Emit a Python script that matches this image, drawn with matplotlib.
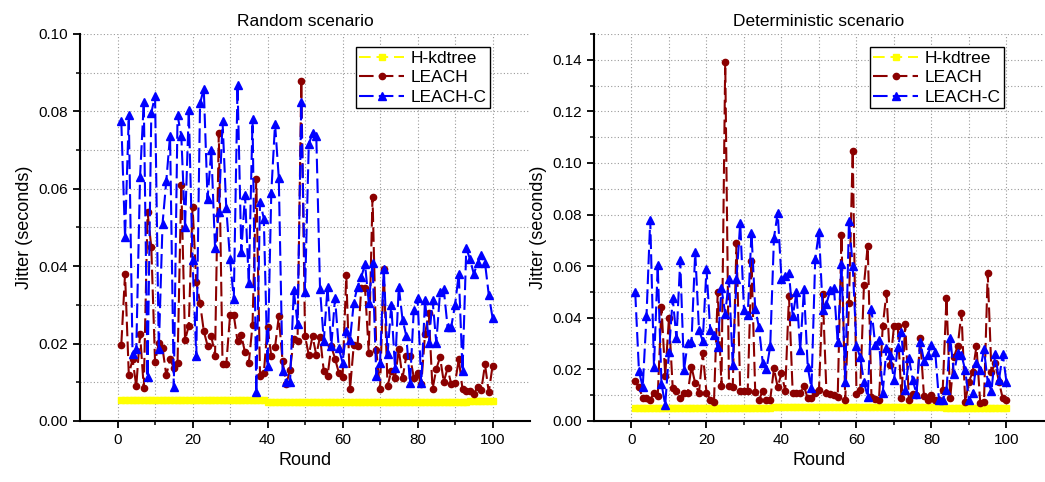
import matplotlib
matplotlib.use('Agg')
import matplotlib.pyplot as plt
from matplotlib.ticker import FixedLocator, FormatStrFormatter

plt.rcParams['font.family'] = ['Liberation Sans', 'DejaVu Sans']

rounds = list(range(1, 101))

# ---------------- Random scenario ----------------
rand_hkd = [0.0054, 0.0054, 0.0054, 0.0054, 0.0054, 0.0054, 0.0054, 0.0054, 0.0054, 0.0054,
            0.0054, 0.0054, 0.0054, 0.0054, 0.0054, 0.0054, 0.0054, 0.0054, 0.0054, 0.0054,
            0.0054, 0.0054, 0.0054, 0.0054, 0.0054, 0.0054, 0.0054, 0.0054, 0.0054, 0.0054,
            0.0054, 0.0054, 0.0054, 0.0054, 0.0054, 0.0054, 0.0054, 0.0054, 0.0054, 0.0050,
            0.0049, 0.0049, 0.0049, 0.0049, 0.0049, 0.0049, 0.0049, 0.0049, 0.0049, 0.0049,
            0.0049, 0.0049, 0.0049, 0.0049, 0.0049, 0.0049, 0.0049, 0.0049, 0.0049, 0.0049,
            0.0049, 0.0049, 0.0049, 0.0049, 0.0049, 0.0049, 0.0049, 0.0049, 0.0049, 0.0049,
            0.0049, 0.0049, 0.0049, 0.0049, 0.0049, 0.0049, 0.0049, 0.0049, 0.0049, 0.0049,
            0.0049, 0.0049, 0.0049, 0.0049, 0.0049, 0.0049, 0.0049, 0.0049, 0.0049, 0.0049,
            0.0049, 0.0049, 0.0049, 0.0051, 0.0051, 0.0051, 0.0051, 0.0051, 0.0051, 0.0051]

rand_leach = [0.0197, 0.0380, 0.0120, 0.0159, 0.0090, 0.0225, 0.0085, 0.0539, 0.0450, 0.0152,
              0.0202, 0.0188, 0.0118, 0.0159, 0.0138, 0.0150, 0.0610, 0.0209, 0.0246, 0.0554,
              0.0360, 0.0305, 0.0232, 0.0195, 0.0220, 0.0168, 0.0744, 0.0146, 0.0146, 0.0273,
              0.0273, 0.0206, 0.0221, 0.0177, 0.0149, 0.0249, 0.0626, 0.0116, 0.0123, 0.0244,
              0.0167, 0.0191, 0.0270, 0.0155, 0.0095, 0.0132, 0.0212, 0.0206, 0.0879, 0.0219,
              0.0170, 0.0219, 0.0170, 0.0218, 0.0129, 0.0116, 0.0193, 0.0161, 0.0125, 0.0114,
              0.0377, 0.0082, 0.0197, 0.0195, 0.0343, 0.0343, 0.0176, 0.0578, 0.0183, 0.0082,
              0.0392, 0.0090, 0.0129, 0.0112, 0.0185, 0.0111, 0.0167, 0.0167, 0.0112, 0.0123,
              0.0095, 0.0225, 0.0279, 0.0082, 0.0134, 0.0165, 0.0101, 0.0136, 0.0095, 0.0097,
              0.0160, 0.0082, 0.0078, 0.0077, 0.0070, 0.0088, 0.0080, 0.0146, 0.0074, 0.0142]

rand_leachc = [0.0774, 0.0475, 0.0790, 0.0172, 0.0185, 0.0630, 0.0825, 0.0113, 0.0796, 0.0840,
               0.0185, 0.0510, 0.0620, 0.0737, 0.0087, 0.0790, 0.0737, 0.0500, 0.0803, 0.0415,
               0.0168, 0.0821, 0.0858, 0.0574, 0.0700, 0.0447, 0.0539, 0.0774, 0.0549, 0.0418,
               0.0315, 0.0868, 0.0437, 0.0585, 0.0356, 0.0779, 0.0074, 0.0567, 0.0523, 0.0142,
               0.0590, 0.0768, 0.0628, 0.0129, 0.0100, 0.0100, 0.0338, 0.0251, 0.0823, 0.0332,
               0.0715, 0.0744, 0.0737, 0.0341, 0.0206, 0.0347, 0.0193, 0.0318, 0.0188, 0.0151,
               0.0232, 0.0210, 0.0306, 0.0347, 0.0372, 0.0405, 0.0305, 0.0408, 0.0116, 0.0150,
               0.0392, 0.0172, 0.0300, 0.0136, 0.0347, 0.0262, 0.0220, 0.0097, 0.0287, 0.0319,
               0.0097, 0.0313, 0.0202, 0.0313, 0.0202, 0.0332, 0.0340, 0.0244, 0.0244, 0.0300,
               0.0380, 0.0129, 0.0446, 0.0418, 0.0380, 0.0408, 0.0428, 0.0408, 0.0326, 0.0267]

# ---------------- Deterministic scenario ----------------
det_hkd = [0.0051, 0.0051, 0.0051, 0.0051, 0.0051, 0.0051, 0.0051, 0.0051, 0.0051, 0.0051,
           0.0051, 0.0051, 0.0051, 0.0051, 0.0051, 0.0051, 0.0051, 0.0051, 0.0051, 0.0051,
           0.0051, 0.0051, 0.0051, 0.0051, 0.0051, 0.0051, 0.0051, 0.0051, 0.0051, 0.0051,
           0.0051, 0.0051, 0.0051, 0.0051, 0.0051, 0.0051, 0.0051, 0.0053, 0.0053, 0.0053,
           0.0053, 0.0053, 0.0053, 0.0053, 0.0053, 0.0053, 0.0053, 0.0053, 0.0053, 0.0053,
           0.0053, 0.0053, 0.0053, 0.0053, 0.0053, 0.0053, 0.0053, 0.0053, 0.0053, 0.0053,
           0.0053, 0.0053, 0.0053, 0.0053, 0.0053, 0.0053, 0.0053, 0.0053, 0.0053, 0.0053,
           0.0053, 0.0053, 0.0053, 0.0053, 0.0053, 0.0053, 0.0053, 0.0053, 0.0053, 0.0053,
           0.0053, 0.0053, 0.0053, 0.0052, 0.0052, 0.0052, 0.0052, 0.0052, 0.0052, 0.0052,
           0.0052, 0.0052, 0.0052, 0.0052, 0.0052, 0.0052, 0.0052, 0.0052, 0.0052, 0.0052]

det_leach = [0.0156, 0.0130, 0.0090, 0.0090, 0.0083, 0.0107, 0.0097, 0.0441, 0.0175, 0.0400,
             0.0126, 0.0117, 0.0090, 0.0110, 0.0109, 0.0210, 0.0146, 0.0107, 0.0265, 0.0110,
             0.0083, 0.0074, 0.0498, 0.0135, 0.1393, 0.0136, 0.0130, 0.0688, 0.0117, 0.0117,
             0.0117, 0.0619, 0.0113, 0.0081, 0.0117, 0.0081, 0.0083, 0.0204, 0.0130, 0.0187,
             0.0117, 0.0483, 0.0107, 0.0109, 0.0107, 0.0135, 0.0088, 0.0090, 0.0110, 0.0120,
             0.0493, 0.0110, 0.0104, 0.0101, 0.0094, 0.0719, 0.0081, 0.0457, 0.1047, 0.0104,
             0.0120, 0.0528, 0.0680, 0.0093, 0.0085, 0.0081, 0.0368, 0.0496, 0.0217, 0.0368,
             0.0368, 0.0090, 0.0376, 0.0081, 0.0104, 0.0101, 0.0320, 0.0097, 0.0081, 0.0101,
             0.0081, 0.0083, 0.0120, 0.0476, 0.0088, 0.0249, 0.0290, 0.0420, 0.0074, 0.0152,
             0.0191, 0.0290, 0.0071, 0.0074, 0.0573, 0.0191, 0.0223, 0.0152, 0.0088, 0.0083]

det_leachc = [0.0498, 0.0193, 0.0132, 0.0405, 0.0780, 0.0210, 0.0603, 0.0145, 0.0061, 0.0268,
              0.0476, 0.0320, 0.0623, 0.0197, 0.0304, 0.0306, 0.0655, 0.0353, 0.0310, 0.0589,
              0.0353, 0.0333, 0.0288, 0.0515, 0.0415, 0.0551, 0.0217, 0.0551, 0.0768, 0.0431,
              0.0410, 0.0729, 0.0435, 0.0363, 0.0226, 0.0200, 0.0290, 0.0710, 0.0807, 0.0551,
              0.0560, 0.0573, 0.0405, 0.0498, 0.0275, 0.0512, 0.0210, 0.0126, 0.0628, 0.0733,
              0.0431, 0.0454, 0.0506, 0.0514, 0.0305, 0.0609, 0.0152, 0.0775, 0.0600, 0.0290,
              0.0247, 0.0152, 0.0093, 0.0433, 0.0295, 0.0314, 0.0109, 0.0282, 0.0256, 0.0158,
              0.0288, 0.0346, 0.0120, 0.0243, 0.0160, 0.0104, 0.0308, 0.0234, 0.0256, 0.0295,
              0.0269, 0.0081, 0.0083, 0.0120, 0.0323, 0.0182, 0.0265, 0.0256, 0.0197, 0.0081,
              0.0107, 0.0226, 0.0197, 0.0278, 0.0152, 0.0117, 0.0260, 0.0158, 0.0260, 0.0152]

series_names = ['H-kdtree', 'LEACH', 'LEACH-C']
titles = ['Random scenario', 'Deterministic scenario']
xticks = [0, 20, 40, 60, 80, 100]
xminor = [10, 30, 50, 70, 90]

C_Y = '#FFFF00'
C_R = '#8B0000'
C_B = '#0000FF'

fig = plt.figure(figsize=(10.45, 4.82), dpi=100)
axL = fig.add_axes([0.0766, 0.1266, 0.4306, 0.803])
axR = fig.add_axes([0.5684, 0.1266, 0.4306, 0.803])


def draw(ax, hkd, leach, leachc, ymax, title):
    ax.plot(rounds, hkd, color=C_Y, lw=1.4, ls=(0, (6, 3)), marker='s', ms=4.4,
            mec=C_Y, mfc=C_Y, label=series_names[0], zorder=3)
    ax.plot(rounds, leach, color=C_R, lw=1.5, ls=(0, (7, 2.5)), marker='o', ms=4.5,
            mec=C_R, mfc=C_R, label=series_names[1], zorder=4)
    ax.plot(rounds, leachc, color=C_B, lw=1.5, ls=(0, (7, 2.5)), marker='^', ms=5.3,
            mec=C_B, mfc=C_B, label=series_names[2], zorder=5)
    ax.set_xlim(-10, 110)
    ax.set_ylim(0, ymax)
    for s in ['top', 'right']:
        ax.spines[s].set_visible(False)
    for s in ['left', 'bottom']:
        ax.spines[s].set_linewidth(1.5)
    ax.xaxis.set_major_locator(FixedLocator(xticks))
    ax.xaxis.set_minor_locator(FixedLocator(xminor))
    nmaj = int(round(ymax / 0.02)) + 1
    ax.yaxis.set_major_locator(FixedLocator([0.02 * i for i in range(nmaj)]))
    ax.yaxis.set_minor_locator(FixedLocator([0.01 + 0.02 * i for i in range(nmaj)]))
    ax.yaxis.set_major_formatter(FormatStrFormatter('%.2f'))
    ax.tick_params(which='major', direction='out', length=5, width=1.3, labelsize=11)
    ax.tick_params(which='minor', direction='out', length=3, width=1.1)
    ax.grid(which='both', linestyle=(0, (1, 2)), color='#9a9a9a', linewidth=0.8)
    ax.set_axisbelow(True)
    ax.set_title(title, fontsize=12.5, pad=6)
    ax.set_xlabel('Round', fontsize=13)
    ax.set_ylabel('Jitter (seconds)', fontsize=13)
    leg = ax.legend(loc='upper right', bbox_to_anchor=(0.911, 0.966), fontsize=12.5,
                    frameon=True, fancybox=False, edgecolor='black', framealpha=1,
                    handlelength=2.6, handletextpad=0.35, labelspacing=0.25,
                    borderpad=0.2, borderaxespad=0)
    leg.get_frame().set_linewidth(1.0)


draw(axL, rand_hkd, rand_leach, rand_leachc, 0.10, titles[0])
draw(axR, det_hkd, det_leach, det_leachc, 0.15, titles[1])

fig.savefig('out.png', dpi=100)
